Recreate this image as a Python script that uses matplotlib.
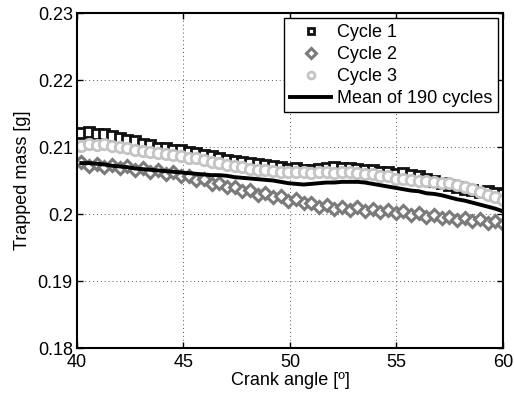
import numpy as np
import matplotlib
matplotlib.use("Agg")
import matplotlib.pyplot as plt

plt.rcParams['font.family'] = ['Liberation Sans', 'DejaVu Sans']

# Crank angle positions (start, step, count)
x_start = 40.2
x_step = 0.36
n_pts = 56

cycle1 = [0.2121, 0.2122, 0.2119, 0.2120, 0.2116, 0.2113, 0.2111, 0.2109, 0.2104, 0.2103,
          0.2099, 0.2098, 0.2095, 0.2096, 0.2092, 0.2091, 0.2088, 0.2087, 0.2083, 0.2080,
          0.2079, 0.2077, 0.2076, 0.2074, 0.2073, 0.2071, 0.2070, 0.2067, 0.2068, 0.2066,
          0.2066, 0.2067, 0.2069, 0.2070, 0.2068, 0.2069, 0.2067, 0.2066, 0.2065, 0.2063,
          0.2062, 0.2060, 0.2061, 0.2058, 0.2056, 0.2053, 0.2050, 0.2046, 0.2044, 0.2040,
          0.2038, 0.2036, 0.2033, 0.2034, 0.2031, 0.2030]

cycle2 = [0.2077, 0.2072, 0.2075, 0.2070, 0.2073, 0.2068, 0.2071, 0.2066, 0.2069, 0.2063,
          0.2066, 0.2060, 0.2062, 0.2056, 0.2057, 0.2051, 0.2052, 0.2045, 0.2047, 0.2040,
          0.2041, 0.2035, 0.2036, 0.2029, 0.2031, 0.2025, 0.2027, 0.2020, 0.2022, 0.2016,
          0.2017, 0.2011, 0.2013, 0.2008, 0.2011, 0.2006, 0.2010, 0.2005, 0.2008, 0.2003,
          0.2006, 0.2001, 0.2004, 0.1999, 0.2002, 0.1996, 0.1999, 0.1994, 0.1996, 0.1991,
          0.1994, 0.1989, 0.1992, 0.1987, 0.1990, 0.1985]

cycle3 = [0.2102, 0.2104, 0.2103, 0.2104, 0.2102, 0.2100, 0.2099, 0.2096, 0.2094, 0.2093,
          0.2091, 0.2089, 0.2088, 0.2086, 0.2084, 0.2083, 0.2080, 0.2078, 0.2076, 0.2073,
          0.2072, 0.2070, 0.2067, 0.2066, 0.2065, 0.2064, 0.2063, 0.2063, 0.2062, 0.2063,
          0.2061, 0.2062, 0.2063, 0.2061, 0.2063, 0.2062, 0.2061, 0.2060, 0.2059, 0.2057,
          0.2056, 0.2053, 0.2052, 0.2051, 0.2050, 0.2049, 0.2048, 0.2047, 0.2046, 0.2044,
          0.2041, 0.2037, 0.2033, 0.2029, 0.2025, 0.2021]

mean190 = [0.2076, 0.2076, 0.2075, 0.2074, 0.2072, 0.2071, 0.2070, 0.2068, 0.2067, 0.2066,
           0.2065, 0.2064, 0.2063, 0.2062, 0.2061, 0.2060, 0.2059, 0.2058, 0.2058, 0.2057,
           0.2055, 0.2054, 0.2053, 0.2052, 0.2051, 0.2050, 0.2048, 0.2046, 0.2045, 0.2044,
           0.2045, 0.2046, 0.2047, 0.2047, 0.2048, 0.2048, 0.2048, 0.2047, 0.2045, 0.2043,
           0.2041, 0.2039, 0.2037, 0.2035, 0.2034, 0.2031, 0.2030, 0.2028, 0.2025, 0.2022,
           0.2020, 0.2017, 0.2014, 0.2011, 0.2008, 0.2004]

labels = ["Cycle 1", "Cycle 2", "Cycle 3", "Mean of 190 cycles"]
xticks = [40, 45, 50, 55, 60]
yticks = [0.18, 0.19, 0.2, 0.21, 0.22, 0.23]
ytick_labels = ["0.18", "0.19", "0.2", "0.21", "0.22", "0.23"]

x = x_start + x_step * np.arange(n_pts)

FS = 13

fig = plt.figure(figsize=(5.14, 3.98), dpi=100)
ax = fig.add_axes([0.1498, 0.1256, 0.8288, 0.8417])

ax.plot(x, cycle1, linestyle='none', marker='s', markersize=6.5, mfc='white',
        mec='#111111', mew=2.0, label=labels[0])
ax.plot(x, cycle2, linestyle='none', marker='D', markersize=6, mfc='white',
        mec='#7a7a7a', mew=2.2, label=labels[1])
ax.plot(x, cycle3, linestyle='none', marker='o', markersize=7.5, mfc='white',
        mec='#c4c4c4', mew=2.0, label=labels[2])
ax.plot(x, mean190, color='black', linewidth=2.8, label=labels[3])

ax.set_xlim(40, 60)
ax.set_ylim(0.18, 0.23)
ax.set_xticks(xticks)
ax.set_yticks(yticks)
ax.set_yticklabels(ytick_labels)
ax.tick_params(direction='in', top=True, right=True, labelsize=FS, length=4,
               width=1.0)
ax.tick_params(axis='y', pad=3)
ax.tick_params(axis='x', pad=4)
ax.grid(True, linestyle=(0, (1, 3)), color='#555555', linewidth=0.7)
for s in ax.spines.values():
    s.set_linewidth(1.5)

ax.set_xlabel("Crank angle [º]", fontsize=FS, labelpad=1)
ax.set_ylabel("Trapped mass [g]", fontsize=FS, labelpad=5)

leg = ax.legend(loc='upper right', fontsize=FS, frameon=True, fancybox=False,
                edgecolor='black', framealpha=1, borderpad=0.3, labelspacing=0.28,
                handlelength=2.3, handletextpad=0.3, borderaxespad=0.3)
leg.get_frame().set_linewidth(1.0)
for h in leg.legend_handles[:3]:
    h.set_markersize(5)

fig.savefig("out.png", dpi=100)
